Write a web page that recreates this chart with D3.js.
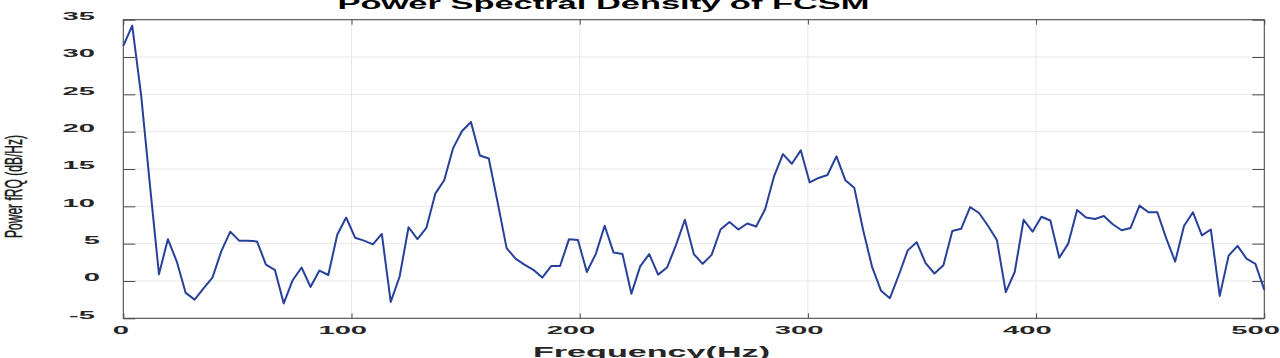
<!DOCTYPE html>
<html><head><meta charset="utf-8">
<script src="https://cdn.jsdelivr.net/npm/d3@7"></script>
<style>body{margin:0;background:#fff;} svg{display:block}</style>
</head><body><svg id="c" width="1280" height="358"></svg>
<script>
// PSD values (dB/Hz), one per FFT bin from 0 to 500 Hz
const psdValues = [
 31.5, 34.2, 24.9, 12.7, 0.9, 5.6, 2.6, -1.6, -2.5, -1.0,
 0.45, 4.0, 6.6, 5.4, 5.4, 5.3, 2.2, 1.5, -3.0, 0.1,
 1.8, -0.8, 1.4, 0.8, 6.2, 8.5, 5.8, 5.4, 4.9, 6.3,
 -2.8, 0.6, 7.2, 5.6, 7.1, 11.7, 13.5, 17.8, 20.1, 21.3,
 16.8, 16.4, 10.5, 4.4, 3.0, 2.2, 1.5, 0.45, 2.0, 2.0,
 5.6, 5.5, 1.2, 3.6, 7.4, 3.8, 3.6, -1.7, 2.0, 3.6,
 0.85, 1.8, 4.8, 8.2, 3.6, 2.3, 3.5, 6.9, 7.9, 6.9,
 7.7, 7.3, 9.6, 14.0, 17.0, 15.7, 17.5, 13.2, 13.8, 14.2,
 16.7, 13.5, 12.5, 6.8, 1.9, -1.3, -2.3, 0.8, 4.1, 5.2,
 2.4, 1.0, 2.1, 6.7, 7.0, 9.9, 9.1, 7.4, 5.5, -1.5,
 1.2, 8.2, 6.6, 8.6, 8.1, 3.1, 5.0, 9.5, 8.5, 8.3,
 8.7, 7.6, 6.8, 7.1, 10.1, 9.2, 9.2, 5.7, 2.6, 7.4,
 9.2, 6.1, 6.9, -2.0, 3.4, 4.7, 3.0, 2.3, -1.2
];
const maxFreq = 500;
const xTicks = [0, 100, 200, 300, 400, 500];
const yTicks = [-5, 0, 5, 10, 15, 20, 25, 30, 35];
const titleText = "Power Spectral Density of FCSM";
const xLabelText = "Frequency(Hz)";
const yLabelText = "Power fRQ (dB/Hz)";

const binStep = maxFreq / (psdValues.length - 1);
const points = psdValues.map((v, i) => ({f: i * binStep, v}));

const svg = d3.select("#c");
const L = 123.3, R = 1264.3, T = 19.7, B = 318.3;
const x = d3.scaleLinear().domain([0, maxFreq]).range([L, R]);
const y = d3.scaleLinear().domain([-5, 35]).range([B, T]);
const FONT = "'Liberation Sans', Arial, Helvetica, sans-serif";

function stretch(sel, factor) {
  sel.each(function() {
    const w = this.getComputedTextLength();
    this.setAttribute("textLength", w * factor);
    this.setAttribute("lengthAdjust", "spacingAndGlyphs");
  });
}
function fitTo(sel, width) {
  sel.attr("textLength", width).attr("lengthAdjust", "spacingAndGlyphs");
}

// grid
const grid = svg.append("g").attr("stroke", "#e8e8e8").attr("stroke-width", 1);
grid.selectAll("line.h").data(yTicks.slice(1, -1)).join("line")
  .attr("x1", L).attr("x2", R).attr("y1", d => y(d)).attr("y2", d => y(d));
grid.selectAll("line.v").data(xTicks.slice(1, -1)).join("line")
  .attr("y1", T).attr("y2", B).attr("x1", d => x(d)).attr("x2", d => x(d));

// axes
const fmt = d => String(d);
const gL = svg.append("g").attr("transform", `translate(${L},0)`)
  .call(d3.axisLeft(y).tickValues(yTicks).tickSize(-12).tickFormat(fmt));
const gR = svg.append("g").attr("transform", `translate(${R},0)`)
  .call(d3.axisRight(y).tickValues(yTicks).tickSize(-12).tickFormat(""));
const gB = svg.append("g").attr("transform", `translate(0,${B})`)
  .call(d3.axisBottom(x).tickValues(xTicks).tickSize(-5).tickFormat(fmt));
const gT = svg.append("g").attr("transform", `translate(0,${T})`)
  .call(d3.axisTop(x).tickValues(xTicks).tickSize(-5).tickFormat(""));
[gL, gR, gB, gT].forEach(g => {
  g.select(".domain").remove();
  g.selectAll(".tick line").attr("stroke", "#4a4a4a");
});

gL.selectAll(".tick text")
  .attr("font-family", FONT).attr("font-size", 11).attr("font-weight", "bold")
  .attr("fill", "#262626").attr("text-anchor", "end")
  .attr("dy", 0).attr("y", -0.3)
  .attr("x", d => (fmt(d).length === 1 ? 100 : 95) - L)
  .call(stretch, 2.65);

gB.selectAll(".tick text")
  .attr("font-family", FONT).attr("font-size", 11).attr("font-weight", "bold")
  .attr("fill", "#262626").attr("text-anchor", "middle")
  .attr("dy", 0).attr("y", 15.8)
  .call(stretch, 2.65)
  .attr("dx", function() { return -0.19 * (+this.getAttribute("textLength")); });

// box
svg.append("rect").attr("x", L).attr("y", T).attr("width", R - L).attr("height", B - T)
  .attr("fill", "none").attr("stroke", "#4a4a4a").attr("stroke-width", 1.1);

// line
svg.append("path").datum(points)
  .attr("fill", "none").attr("stroke", "#27409a").attr("stroke-width", 2)
  .attr("stroke-linejoin", "round")
  .attr("d", d3.line().x(d => x(d.f)).y(d => y(d.v)));

// title
svg.append("text").text(titleText)
  .attr("x", 603.5).attr("y", 9).attr("text-anchor", "middle")
  .attr("font-family", FONT).attr("font-size", 16).attr("font-weight", "bold")
  .attr("fill", "#000").call(fitTo, 532);

// x label
svg.append("text").text(xLabelText)
  .attr("x", 651.5).attr("y", 357).attr("text-anchor", "middle")
  .attr("font-family", FONT).attr("font-size", 14).attr("font-weight", "bold")
  .attr("fill", "#262626").call(fitTo, 237);

// y label
svg.append("text").text(yLabelText)
  .attr("transform", "translate(21.5,186.5) rotate(-90)").attr("text-anchor", "middle")
  .attr("font-family", FONT).attr("font-size", 24)
  .attr("fill", "#1a1a1a").attr("stroke", "#1a1a1a").attr("stroke-width", 0.5)
  .call(fitTo, 103);
</script></body></html>
